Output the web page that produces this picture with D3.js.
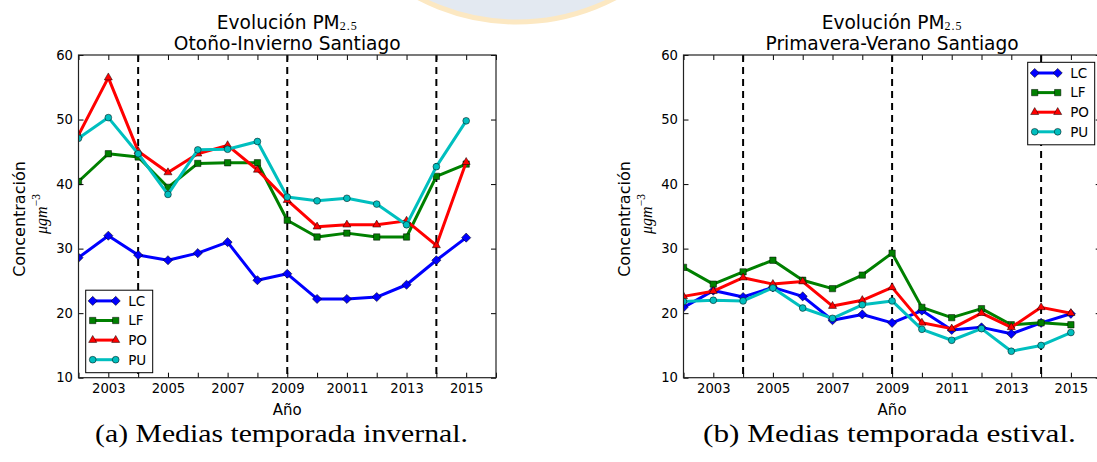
<!DOCTYPE html>
<html>
<head>
<meta charset="utf-8">
<script src="https://cdn.jsdelivr.net/npm/d3@7"></script>
<style>
  html, body { margin: 0; padding: 0; background: #fff; }
  svg { display: block; }
</style>
</head>
<body>
<script>
// ---- data -----------------------------------------------------------
const years = [2002, 2003, 2004, 2005, 2006, 2007, 2008, 2009, 2010, 2011, 2012, 2013, 2014, 2015];
const seriesNames = ["LC", "LF", "PO", "PU"];

// Autumn-winter means (µg m^-3)
const invLC = [28.6, 32.0, 29.0, 28.2, 29.3, 31.0, 25.1, 26.1, 22.2, 22.2, 22.5, 24.4, 28.2, 31.7];
const invLF = [40.4, 44.7, 44.2, 39.5, 43.2, 43.3, 43.3, 34.4, 31.8, 32.4, 31.8, 31.8, 41.2, 43.1];
const invPO = [47.6, 56.5, 45.1, 41.8, 44.7, 46.0, 42.2, 37.5, 33.4, 33.7, 33.7, 34.3, 30.5, 43.4];
const invPU = [47.1, 50.3, 44.7, 38.4, 45.3, 45.4, 46.6, 38.0, 37.4, 37.8, 36.9, 33.7, 42.7, 49.8];

// Spring-summer means (µg m^-3)
const estLC = [20.9, 23.5, 22.5, 24.0, 22.6, 18.9, 19.8, 18.5, 20.4, 17.4, 17.8, 16.8, 18.5, 19.9];
const estLF = [27.1, 24.5, 26.4, 28.2, 25.1, 23.8, 25.9, 29.3, 20.9, 19.3, 20.7, 18.2, 18.5, 18.2];
const estPO = [22.6, 23.4, 25.5, 24.5, 24.9, 21.1, 22.0, 24.0, 18.5, 17.6, 20.0, 17.8, 20.9, 20.0];
const estPU = [21.8, 22.0, 21.9, 23.9, 20.8, 19.2, 21.3, 21.9, 17.5, 15.8, 17.6, 14.1, 15.0, 17.0];

// Vertical reference years (dashed lines)
const breakYears = [2004, 2009, 2014];

// Axis ticks and labels
const xDomain = [2002, 2016];
const xTickYears = [2002, 2003, 2004, 2005, 2006, 2007, 2008, 2009, 2010, 2011, 2012, 2013, 2014, 2015, 2016];
const xLabelYears = [2003, 2005, 2007, 2009, 2011, 2013, 2015];
const xLabelsInv = ["2003", "2005", "2007", "2009", "20011", "2013", "2015"];
const xLabelsEst = ["2003", "2005", "2007", "2009", "2011", "2013", "2015"];
const yDomain = [10, 60];
const yTicks = [10, 20, 30, 40, 50, 60];

// ---- styling --------------------------------------------------------
const colors = { LC: "#0000ff", LF: "#008000", PO: "#ff0000", PU: "#00bfbf" };
const sans = "'DejaVu Sans', 'Bitstream Vera Sans', sans-serif";
const serif = "'Liberation Serif', 'DejaVu Serif', serif";

const W = 1097, H = 462;
const plotTop = 55, plotBottom = 377.7;

const panels = [
  {
    key: "inv", x0: 78.5, x1: 496,
    subtitle: "Otoño-Invierno Santiago",
    caption: "(a) Medias temporada invernal.", captionX: 281.5,
    xLabels: xLabelsInv,
    data: { LC: invLC, LF: invLF, PO: invPO, PU: invPU },
    legend: "lowerleft"
  },
  {
    key: "est", x0: 683.5, x1: 1100.7,
    subtitle: "Primavera-Verano Santiago",
    caption: "(b) Medias temporada estival.", captionX: 889.5,
    xLabels: xLabelsEst,
    data: { LC: estLC, LF: estLF, PO: estPO, PU: estPU },
    legend: "upperright"
  }
];

const svg = d3.select("body").append("svg")
  .attr("width", W).attr("height", H)
  .attr("viewBox", `0 0 ${W} ${H}`);

svg.append("rect").attr("width", W).attr("height", H).attr("fill", "#fff");

// faint seal in the page background
svg.append("circle")
  .attr("cx", 517).attr("cy", -190).attr("r", 212)
  .attr("fill", "#e3e9f1")
  .attr("stroke", "#fce8c2").attr("stroke-width", 5);

// marker factory
function markerPath(name) {
  if (name === "LC") return d3.symbol(d3.symbolSquare, 42)();
  if (name === "LF") return d3.symbol(d3.symbolSquare, 40)();
  if (name === "PO") return d3.symbol(d3.symbolTriangle, 28)();
  return d3.symbol(d3.symbolCircle, 36)();
}
function markerRot(name) { return name === "LC" ? " rotate(45)" : ""; }

panels.forEach((p) => {
  const x = d3.scaleLinear().domain(xDomain).range([p.x0, p.x1]);
  const y = d3.scaleLinear().domain(yDomain).range([plotBottom, plotTop]);
  const g = svg.append("g").attr("class", "panel-" + p.key);
  const cx = (p.x0 + p.x1) / 2;

  const clipId = "clip-" + p.key;
  svg.append("defs").append("clipPath").attr("id", clipId)
    .append("rect")
    .attr("x", p.x0).attr("y", plotTop)
    .attr("width", p.x1 - p.x0).attr("height", plotBottom - plotTop);

  const plot = g.append("g").attr("clip-path", `url(#${clipId})`);

  // dashed reference lines
  plot.selectAll("line.brk").data(breakYears).join("line")
    .attr("class", "brk")
    .attr("x1", d => x(d)).attr("x2", d => x(d))
    .attr("y1", plotTop).attr("y2", plotBottom)
    .attr("stroke", "#000").attr("stroke-width", 2)
    .attr("stroke-dasharray", "7,5");

  // series lines and markers
  const line = d3.line().x((d, i) => x(years[i])).y(d => y(d));
  seriesNames.forEach(name => {
    const vals = p.data[name];
    plot.append("path")
      .datum(vals)
      .attr("d", line)
      .attr("fill", "none")
      .attr("stroke", colors[name])
      .attr("stroke-width", 3)
      .attr("stroke-linejoin", "round");
    plot.selectAll("path.m-" + name).data(vals).join("path")
      .attr("class", "m-" + name)
      .attr("d", markerPath(name))
      .attr("transform", (d, i) => `translate(${x(years[i])},${y(d)})${markerRot(name)}`)
      .attr("fill", colors[name])
      .attr("stroke", "#000").attr("stroke-width", 0.5);
  });

  // axes (inward ticks on all four sides)
  const fmt = d => { const i = xLabelYears.indexOf(d); return i >= 0 ? p.xLabels[i] : ""; };
  const axB = g.append("g").attr("transform", `translate(0,${plotBottom})`)
    .call(d3.axisBottom(x).tickValues(xTickYears).tickFormat(fmt).tickSize(-5).tickPadding(6));
  const axT = g.append("g").attr("transform", `translate(0,${plotTop})`)
    .call(d3.axisTop(x).tickValues(xTickYears).tickFormat("").tickSize(-5));
  const axL = g.append("g").attr("transform", `translate(${p.x0},0)`)
    .call(d3.axisLeft(y).tickValues(yTicks).tickFormat(d3.format("d")).tickSize(-5).tickPadding(5.5));
  const axR = g.append("g").attr("transform", `translate(${p.x1},0)`)
    .call(d3.axisRight(y).tickValues(yTicks).tickFormat("").tickSize(-5));
  [axB, axT, axL, axR].forEach(a => {
    a.select(".domain").remove();
    a.selectAll(".tick line").attr("stroke", "#000").attr("stroke-width", 1);
    a.selectAll(".tick text").attr("fill", "#000")
      .attr("font-family", sans).attr("font-size", 13.2);
  });

  // frame
  g.append("rect")
    .attr("x", p.x0).attr("y", plotTop)
    .attr("width", p.x1 - p.x0).attr("height", plotBottom - plotTop)
    .attr("fill", "none").attr("stroke", "#222").attr("stroke-width", 1.2);

  // titles
  const t1 = g.append("text").attr("x", cx).attr("y", 28.5)
    .attr("text-anchor", "middle").attr("font-family", sans).attr("font-size", 18.6).attr("fill", "#000");
  t1.append("tspan").text("Evolución PM");
  t1.append("tspan").attr("font-family", serif).attr("font-size", 12).attr("dy", 1.5)
    .attr("letter-spacing", 1).text("2.5");
  g.append("text").attr("x", cx).attr("y", 50)
    .attr("text-anchor", "middle").attr("font-family", sans).attr("font-size", 18.6).attr("fill", "#000")
    .text(p.subtitle);

  // axis labels
  g.append("text").attr("x", cx).attr("y", 415)
    .attr("text-anchor", "middle").attr("font-family", sans).attr("font-size", 15).attr("fill", "#000")
    .text("Año");
  g.append("text")
    .attr("transform", `translate(${p.x0 - 53.5},219) rotate(-90)`)
    .attr("text-anchor", "middle").attr("font-family", sans).attr("font-size", 16).attr("fill", "#000")
    .text("Concentración");
  const unit = g.append("text")
    .attr("transform", `translate(${p.x0 - 32},214) rotate(-90)`)
    .attr("text-anchor", "middle").attr("font-family", serif).attr("font-style", "italic")
    .attr("font-size", 16).attr("fill", "#000");
  unit.append("tspan").text("μgm");
  unit.append("tspan").attr("font-size", 11.5).attr("dy", -7).attr("font-style", "normal").text("−3");

  // legend
  const lw = 67, lh = 82.5;
  const lx = p.legend === "lowerleft" ? p.x0 + 7.2 : p.x1 - 6 - lw;
  const ly = p.legend === "lowerleft" ? plotBottom - 5 - lh : plotTop + 7.3;
  const leg = g.append("g").attr("transform", `translate(${lx},${ly})`);
  leg.append("rect").attr("width", lw).attr("height", lh)
    .attr("fill", "#fff").attr("stroke", "#000").attr("stroke-width", 1);
  seriesNames.forEach((name, i) => {
    const yy = 10.7 + i * 19.6;
    const it = leg.append("g").attr("transform", `translate(0,${yy})`);
    it.append("line").attr("x1", 7).attr("x2", 30).attr("y1", 0).attr("y2", 0)
      .attr("stroke", colors[name]).attr("stroke-width", 3);
    [7, 30].forEach(mx => {
      it.append("path").attr("d", markerPath(name))
        .attr("transform", `translate(${mx},0)${markerRot(name)}`)
        .attr("fill", colors[name]).attr("stroke", "#000").attr("stroke-width", 0.5);
    });
    it.append("text").attr("x", 42.5).attr("y", 0).attr("dy", "0.36em")
      .attr("font-family", sans).attr("font-size", 13.5).attr("fill", "#000")
      .text(name);
  });

  // caption below the panel, stretched to its printed width
  const cap = svg.append("text")
    .attr("x", 0).attr("y", 0)
    .attr("text-anchor", "middle").attr("font-family", serif).attr("font-size", 24.5)
    .attr("fill", "#000").text(p.caption);
  const w = cap.node().getComputedTextLength();
  const target = 373;
  cap.attr("transform", `translate(${p.captionX},442) scale(${target / w},1)`);
});
</script>
</body>
</html>
